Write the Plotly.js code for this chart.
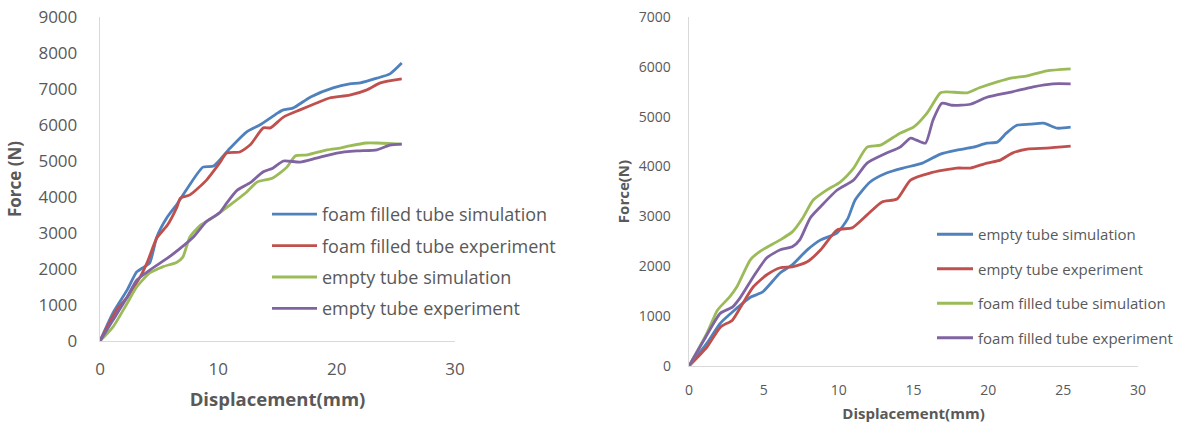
<!DOCTYPE html>
<html>
<head>
<meta charset="utf-8">
<script src="https://cdn.plot.ly/plotly-3.0.1.min.js"></script>
<style>html,body{margin:0;padding:0;background:#fff;}#chart{width:1186px;height:428px;}</style>
</head>
<body>
<div id="chart"></div>
<script>
// ---- Left chart data ----
const leftNames = ["foam filled tube simulation", "foam filled tube experiment", "empty tube simulation", "empty tube experiment"];
const leftFoamSimX = [0, 1.1, 2.3, 3.1, 3.6, 4.2, 4.8, 5.7, 6.5, 7.4, 8.7, 9.6, 11, 12.4, 13.5, 15, 15.5, 16.3, 17.8, 19.7, 21.1, 22, 23.4, 24.5, 25.5];
const leftFoamSimY = [0, 780, 1420, 1920, 2030, 2170, 2890, 3450, 3800, 4250, 4830, 4860, 5360, 5810, 6000, 6330, 6420, 6470, 6780, 7030, 7140, 7170, 7300, 7420, 7720];
const leftFoamExpX = [0, 1.4, 2.3, 2.8, 3.4, 4, 4.8, 5.7, 6.5, 6.8, 7.6, 9, 10.1, 10.7, 11.8, 12.7, 13.8, 14.4, 15.5, 16.9, 18.3, 19.4, 21.1, 22.5, 23.7, 25.5];
const leftFoamExpY = [0, 860, 1220, 1470, 1780, 2190, 2860, 3220, 3720, 3970, 4060, 4470, 4940, 5220, 5250, 5450, 5920, 5920, 6220, 6420, 6610, 6750, 6830, 6970, 7170, 7280];
const leftEmptySimX = [0, 1.1, 2.3, 3.1, 4.2, 5.3, 6.5, 7, 7.6, 8.5, 9.6, 11, 12.4, 13.3, 14.6, 15.8, 16.5, 17.5, 19.2, 20.3, 21.1, 22.5, 23.4, 25.5];
const leftEmptySimY = [0, 390, 1050, 1500, 1890, 2060, 2190, 2330, 2890, 3220, 3440, 3780, 4140, 4420, 4530, 4830, 5140, 5170, 5310, 5360, 5420, 5500, 5500, 5470];
const leftEmptyExpX = [0, 1.1, 2.3, 3.1, 4.2, 5.7, 6.8, 7.9, 9, 10.1, 10.7, 11.6, 12.7, 13.8, 14.6, 15.5, 16.9, 18.3, 20, 21.7, 23.4, 24.5, 25.5];
const leftEmptyExpY = [0, 580, 1220, 1690, 1970, 2300, 2580, 2890, 3320, 3560, 3830, 4190, 4400, 4700, 4800, 5000, 4970, 5080, 5220, 5280, 5310, 5440, 5470];

// ---- Right chart data ----
const rightNames = ["empty tube simulation", "empty tube experiment", "foam filled tube simulation", "foam filled tube experiment"];
const rightEmptySimX = [0, 1.2, 2.1, 3.2, 4.1, 4.9, 6.1, 6.9, 7.9, 8.8, 9.9, 10.6, 11.1, 12.1, 13.2, 14.3, 15.6, 16.8, 17.9, 19, 19.9, 20.6, 21.2, 21.9, 22.8, 23.7, 24.6, 25.5];
const rightEmptySimY = [0, 460, 860, 1160, 1380, 1480, 1870, 2030, 2330, 2530, 2670, 2950, 3330, 3690, 3870, 3970, 4070, 4250, 4330, 4390, 4470, 4490, 4670, 4830, 4850, 4870, 4770, 4790];
const rightEmptyExpX = [0, 1.2, 2.1, 2.9, 3.6, 4.3, 5.2, 6.1, 6.9, 7.9, 8.8, 9.9, 10.9, 11.9, 12.9, 13.9, 14.8, 16.1, 17.9, 18.8, 19.9, 20.8, 21.6, 22.6, 23.9, 25.5];
const rightEmptyExpY = [0, 380, 780, 920, 1260, 1590, 1830, 1970, 1990, 2090, 2330, 2730, 2770, 3030, 3290, 3350, 3730, 3870, 3970, 3970, 4070, 4130, 4270, 4350, 4370, 4410];
const rightFoamSimX = [0, 1.2, 1.9, 2.7, 3.2, 4.1, 4.7, 6.1, 6.9, 7.6, 8.3, 9.2, 10.1, 11, 11.9, 12.8, 14.1, 15, 15.9, 16.8, 17.2, 18.6, 19.4, 20.6, 21.6, 22.6, 23.9, 25.5];
const rightFoamSimY = [0, 660, 1120, 1380, 1590, 2130, 2290, 2530, 2690, 2970, 3330, 3530, 3690, 3970, 4390, 4430, 4670, 4790, 5070, 5480, 5500, 5480, 5580, 5700, 5780, 5820, 5920, 5960];
const rightFoamExpX = [0, 1, 2.1, 2.9, 3.4, 4.3, 5.2, 6.1, 6.9, 7.4, 8.1, 8.8, 9.9, 11, 11.9, 13.2, 14.1, 14.8, 15.2, 15.8, 16.3, 16.9, 17.6, 18.8, 19.9, 21.6, 23, 24.3, 25.5];
const rightFoamExpY = [0, 520, 1060, 1180, 1360, 1790, 2170, 2330, 2390, 2530, 2970, 3200, 3530, 3730, 4070, 4270, 4390, 4570, 4530, 4470, 4930, 5270, 5230, 5250, 5390, 5500, 5600, 5660, 5660];

const blue = "#4F81BD", red = "#C0504D", green = "#9BBB59", purple = "#8064A2";
const txt = "#595959";
const fontFam = "'Open Sans', 'Noto Sans', sans-serif";

function tr(x, y, name, color, xa, ya, grp) {
  return {x: x, y: y, name: name, type: "scatter", mode: "lines",
    line: {color: color, width: 2.8, shape: "spline", smoothing: 0.6},
    xaxis: xa, yaxis: ya, showlegend: true, legendgroup: grp, legend: xa === "x" ? "legend" : "legend2",
    hoverinfo: "skip"};
}

const data = [
  tr(leftFoamSimX, leftFoamSimY, leftNames[0], blue, "x", "y", "a1"),
  tr(leftFoamExpX, leftFoamExpY, leftNames[1], red, "x", "y", "a2"),
  tr(leftEmptySimX, leftEmptySimY, leftNames[2], green, "x", "y", "a3"),
  tr(leftEmptyExpX, leftEmptyExpY, leftNames[3], purple, "x", "y", "a4"),
  tr(rightEmptySimX, rightEmptySimY, rightNames[0], blue, "x2", "y2", "b1"),
  tr(rightEmptyExpX, rightEmptyExpY, rightNames[1], red, "x2", "y2", "b2"),
  tr(rightFoamSimX, rightFoamSimY, rightNames[2], green, "x2", "y2", "b3"),
  tr(rightFoamExpX, rightFoamExpY, rightNames[3], purple, "x2", "y2", "b4")
];

const axisBase = {showgrid: false, zeroline: false, showline: true, linecolor: "#D9D9D9", linewidth: 1.3,
  ticks: "", fixedrange: true};

const layout = {
  width: 1186, height: 428,
  margin: {l: 0, r: 0, t: 0, b: 0},
  paper_bgcolor: "#fff", plot_bgcolor: "#fff",
  font: {family: fontFam, color: txt},
  xaxis: Object.assign({}, axisBase, {domain: [100/1186, 455/1186], range: [0, 30], dtick: 10, anchor: "y",
    tickfont: {size: 17, color: txt}, ticklabelstandoff: 12,
    title: {text: "Displacement(mm)", font: {size: 18.5, color: txt, weight: "bold"}, standoff: 14}}),
  yaxis: Object.assign({}, axisBase, {domain: [87/428, 411/428], range: [0, 9000], dtick: 1000, anchor: "x",
    tickfont: {size: 17, color: txt}, ticklabelstandoff: 18,
    title: {text: "Force (N)", font: {size: 17, color: txt, weight: "bold"}, standoff: 12}}),
  xaxis2: Object.assign({}, axisBase, {domain: [689/1186, 1138/1186], range: [0, 30], dtick: 5, anchor: "y2",
    tickfont: {size: 14, color: txt}, ticklabelstandoff: 11,
    title: {text: "Displacement(mm)", font: {size: 15, color: txt, weight: "bold"}, standoff: 10}}),
  yaxis2: Object.assign({}, axisBase, {domain: [62/428, 411/428], range: [0, 7000], dtick: 1000, anchor: "x2",
    tickfont: {size: 14, color: txt}, ticklabelstandoff: 14,
    title: {text: "Force(N)", font: {size: 15, color: txt, weight: "bold"}, standoff: 5}}),
  legend: {x: 267/1186, y: 1 - 196/428, xanchor: "left", yanchor: "top", bgcolor: "rgba(0,0,0,0)",
    font: {size: 18, color: txt}, tracegroupgap: 5, itemwidth: 45},
  legend2: {x: 932/1186, y: 1 - 218/428, xanchor: "left", yanchor: "top", bgcolor: "rgba(0,0,0,0)",
    font: {size: 15, color: txt}, tracegroupgap: 12, itemwidth: 36},
  showlegend: true
};

Plotly.newPlot("chart", data, layout, {displayModeBar: false, staticPlot: true});
</script>
</body>
</html>
